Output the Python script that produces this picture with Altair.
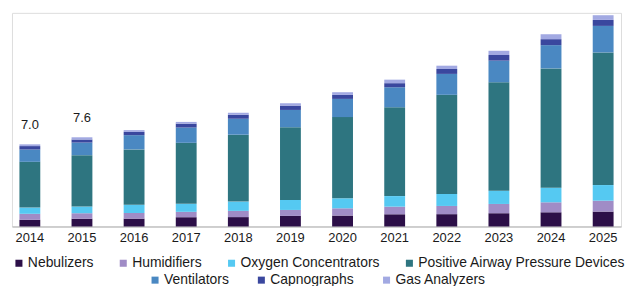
import altair as alt
import pandas as pd

years = ["2014", "2015", "2016", "2017", "2018", "2019",
         "2020", "2021", "2022", "2023", "2024", "2025"]

series_names = ["Nebulizers", "Humidifiers", "Oxygen Concentrators",
                "Positive Airway Pressure Devices", "Ventilators",
                "Capnographs", "Gas Analyzers"]

nebulizers = [0.57, 0.66, 0.67, 0.79, 0.80, 0.90, 0.93, 1.04, 1.05, 1.13, 1.21, 1.27]
humidifiers = [0.51, 0.47, 0.48, 0.46, 0.53, 0.51, 0.62, 0.65, 0.70, 0.79, 0.85, 0.93]
oxygen = [0.53, 0.57, 0.70, 0.68, 0.79, 0.85, 0.85, 0.90, 1.02, 1.13, 1.24, 1.33]
pap = [3.90, 4.38, 4.72, 5.20, 5.70, 6.20, 6.92, 7.57, 8.45, 9.24, 10.17, 11.30]
ventilators = [1.05, 1.07, 1.21, 1.30, 1.36, 1.47, 1.55, 1.70, 1.78, 1.84, 1.98, 2.26]
capnographs = [0.29, 0.26, 0.28, 0.33, 0.34, 0.37, 0.34, 0.35, 0.42, 0.48, 0.51, 0.51]
gas_analyzers = [0.15, 0.19, 0.15, 0.15, 0.17, 0.20, 0.23, 0.30, 0.28, 0.36, 0.42, 0.40]

colors = ["#2c0f48", "#a08cc6", "#55c9f2", "#2e7580",
          "#4a88c2", "#3a479e", "#a2a9e2"]

label_years = ["2014", "2015"]
label_values = [7.0, 7.6]

all_values = [nebulizers, humidifiers, oxygen, pap, ventilators,
              capnographs, gas_analyzers]

rows = []
for i, name in enumerate(series_names):
    for yr, v in zip(years, all_values[i]):
        rows.append({"year": yr, "series": name, "order": i, "value": v})
df = pd.DataFrame(rows)

lab_df = pd.DataFrame({"year": label_years, "total": label_values})

FONT = "Liberation Sans"
TXT = "#1a1a1a"

x_enc = alt.X(
    "year:N", sort=years, title=None,
    scale=alt.Scale(paddingInner=0.6, paddingOuter=0.143),
    axis=alt.Axis(labelAngle=0, ticks=False, labelPadding=5,
                  domainColor="#b0b0b0", domainWidth=1,
                  labelFont=FONT, labelFontSize=13, labelColor=TXT),
)
y_scale = alt.Scale(domain=[0, 18.2], nice=False)

names_a = series_names[:4]
names_b = series_names[4:]


def legend(lx, ly, cp):
    return alt.Legend(orient="none", legendX=lx, legendY=ly,
                      direction="horizontal", title=None,
                      symbolType="square", symbolSize=50,
                      symbolStrokeWidth=0, labelFont=FONT,
                      labelFontSize=14, labelColor=TXT,
                      labelOffset=2, columnPadding=cp, labelLimit=400)


base = alt.Chart(df).transform_stack(
    stack="value", as_=["y0", "y1"], groupby=["year"],
    sort=[alt.SortField("order", order="ascending")],
)

layer_a = base.transform_filter(
    alt.FieldOneOfPredicate(field="series", oneOf=names_a)
).mark_bar().encode(
    x=x_enc,
    y=alt.Y("y0:Q", scale=y_scale, axis=None),
    y2="y1:Q",
    color=alt.Color("series:N",
                    scale=alt.Scale(domain=names_a, range=colors[:4]),
                    legend=legend(0, 245, 22)),
)

layer_b = base.transform_filter(
    alt.FieldOneOfPredicate(field="series", oneOf=names_b)
).mark_bar().encode(
    x=x_enc,
    y=alt.Y("y0:Q", scale=y_scale, axis=None),
    y2="y1:Q",
    fill=alt.Fill("series:N",
                  scale=alt.Scale(domain=names_b, range=colors[4:]),
                  legend=legend(137, 262, 25)),
)

labels = alt.Chart(lab_df).mark_text(
    dy=-15, baseline="alphabetic", font=FONT, fontSize=13, color=TXT
).encode(
    x=alt.X("year:N", sort=years),
    y=alt.Y("total:Q", scale=y_scale),
    text=alt.Text("total:Q", format=".1f"),
)

chart = alt.layer(layer_a, layer_b, labels).properties(
    width=613, height=215,
    padding={"left": 4, "top": 4, "right": 4, "bottom": 60},
    autosize=alt.AutoSizeParams(type="none"),
).configure_view(stroke=None).configure(font=FONT)

chart.save("out.html", embed_options={"renderer": "svg", "actions": False})
